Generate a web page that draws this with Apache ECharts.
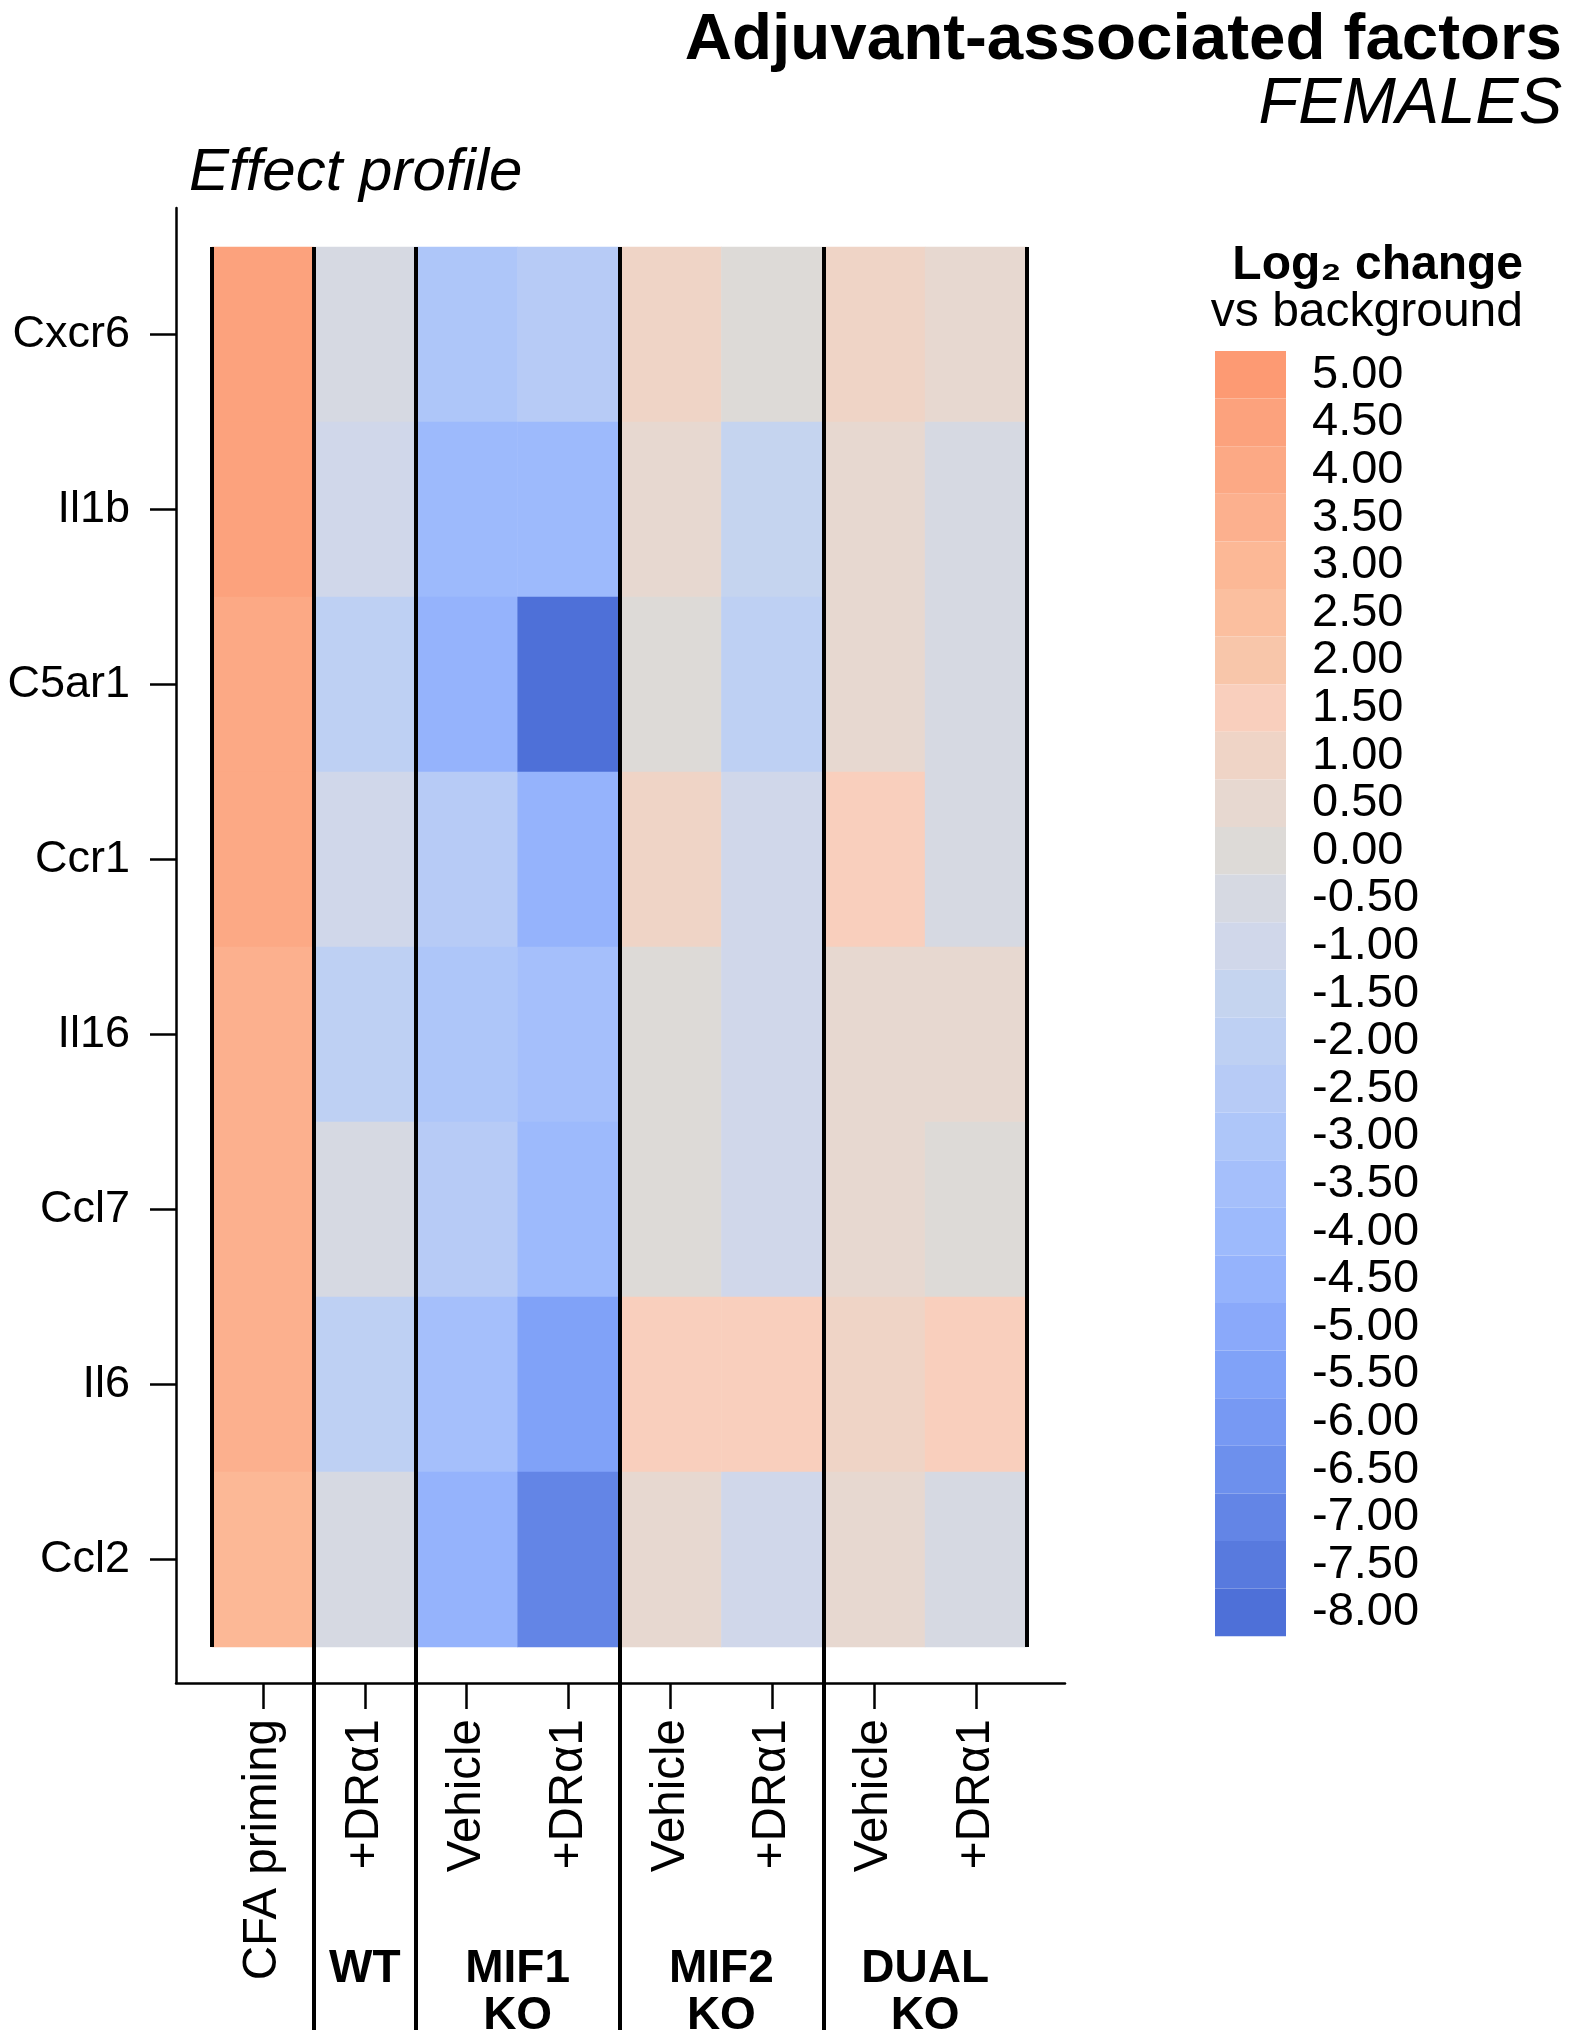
<!DOCTYPE html>
<html>
<head>
<meta charset="utf-8">
<script src="https://cdn.jsdelivr.net/npm/echarts@6/dist/echarts.min.js"></script>
<style>
html,body{margin:0;padding:0;background:#fff;}
#chart{width:1575px;height:2040px;}
</style>
</head>
<body>
<div id="chart"></div>
<script>
// ---- data ----
const genes = ['Cxcr6', 'Il1b', 'C5ar1', 'Ccr1', 'Il16', 'Ccl7', 'Il6', 'Ccl2'];
const treatments = ['CFA priming', '+DRα1', 'Vehicle', '+DRα1', 'Vehicle', '+DRα1', 'Vehicle', '+DRα1'];
const groupLabels = ['WT', 'MIF1\nKO', 'MIF2\nKO', 'DUAL\nKO'];
const groupCenters = [1.5, 3, 5, 7];      // in column units
const groupSeparators = [1, 2, 4, 6];     // column boundaries between groups
const panelEdges = [0, 8];

// log2 change values, one array per column, in gene order
const cfaPriming  = [4.5, 4.5, 4.0, 4.0, 3.5, 3.5, 3.5, 3.0];
const wtDR        = [-0.5, -1.0, -2.0, -1.0, -2.0, -0.5, -2.0, -0.5];
const mif1Vehicle = [-3.0, -4.0, -4.5, -2.5, -3.0, -2.5, -3.5, -4.5];
const mif1DR      = [-2.5, -4.0, -8.0, -4.5, -3.5, -4.0, -5.5, -7.0];
const mif2Vehicle = [1.0, 0.5, 0.0, 1.0, 0.0, 0.0, 1.5, 0.5];
const mif2DR      = [0.0, -1.5, -2.0, -1.0, -1.0, -1.0, 1.5, -1.0];
const dualVehicle = [1.0, 0.5, 0.5, 1.5, 0.5, 0.5, 1.0, 0.5];
const dualDR      = [0.5, -0.5, -0.5, -0.5, 0.5, 0.0, 1.5, -0.5];

const legendTicks = [5.0, 4.5, 4.0, 3.5, 3.0, 2.5, 2.0, 1.5, 1.0, 0.5, 0.0, -0.5, -1.0, -1.5,
  -2.0, -2.5, -3.0, -3.5, -4.0, -4.5, -5.0, -5.5, -6.0, -6.5, -7.0, -7.5, -8.0];

// ---- style ----
const legendColors = ['#fd9a73', '#fca27d', '#fca985', '#fcb08e', '#fcb896', '#fbbf9f', '#f8c6aa',
  '#f9cfbd', '#efd4c6', '#e7d8d0', '#dddad7', '#d6d9e2', '#d0d7ea', '#c5d4ef',
  '#bed0f3', '#b7cbf6', '#aec6f9', '#a5bffb', '#9dbafc', '#95b3fc', '#8aa9fa',
  '#80a2f8', '#7799f3', '#6d90ed', '#6385e6', '#587ade', '#4e70d8'];
const FONT = '"Liberation Sans", Arial, Helvetica, sans-serif';

const columns = [cfaPriming, wtDR, mif1Vehicle, mif1DR, mif2Vehicle, mif2DR, dualVehicle, dualDR];
const heatData = [];
columns.forEach((col, xi) => col.forEach((v, yi) => heatData.push([xi, yi, v])));

const pieces = legendTicks.map((t, i) => ({
  min: t - 0.25, max: t + 0.25, label: t.toFixed(2), color: legendColors[i]
}));

const blackLine = { color: '#000', width: 2.5 };
const hiddenValueAxis = (grid, max) => ({
  type: 'value', gridIndex: grid, min: 0, max: max, show: false
});

const chart = echarts.init(document.getElementById('chart'), null, { renderer: 'canvas' });
chart.setOption({
  backgroundColor: '#fff',
  animation: false,
  textStyle: { fontFamily: FONT, color: '#000' },
  title: [
    { text: 'Adjuvant-associated factors', right: 13, top: 8, padding: 0,
      textStyle: { fontSize: 65.5, fontWeight: 'bold', color: '#000', fontFamily: FONT } },
    { text: 'FEMALES', right: 13, top: 72, padding: 0,
      textStyle: { fontSize: 65, fontStyle: 'italic', fontWeight: 'normal', color: '#000', fontFamily: FONT } },
    { text: 'Effect profile', left: 189, top: 143, padding: 0,
      textStyle: { fontSize: 60, fontStyle: 'italic', fontWeight: 'normal', color: '#000', fontFamily: FONT } },
    { text: 'Log₂ change', right: 52, top: 242, padding: 0,
      textStyle: { fontSize: 48, fontWeight: 'bold', color: '#000', fontFamily: FONT } },
    { text: 'vs background', right: 52, top: 289, padding: 0,
      textStyle: { fontSize: 48, fontWeight: 'normal', color: '#000', fontFamily: FONT } }
  ],
  grid: [
    { left: 212, top: 247, width: 815, height: 1400 },   // 0 heatmap
    { left: 176, top: 208, width: 889, height: 1475 },   // 1 axis frame
    { left: 212, top: 247, width: 815, height: 1783 },   // 2 group separators
    { left: 212, top: 247, width: 815, height: 1400 },   // 3 panel edges
    { left: 212, top: 247, width: 815, height: 1693 }    // 4 group labels
  ],
  xAxis: [
    { type: 'category', gridIndex: 0, data: treatments, position: 'bottom', offset: 36,
      axisLine: { show: false },
      axisTick: { show: true, length: 26, alignWithLabel: true, lineStyle: blackLine },
      axisLabel: { rotate: 90, margin: 36, interval: 0, fontSize: 47.5, color: '#000', fontFamily: FONT },
      splitLine: { show: false } },
    { type: 'value', gridIndex: 1, min: 0, max: 1,
      axisLine: { show: true, onZero: false, lineStyle: blackLine },
      axisTick: { show: false }, axisLabel: { show: false }, splitLine: { show: false } },
    hiddenValueAxis(2, 8),
    hiddenValueAxis(3, 8),
    { type: 'value', gridIndex: 4, min: 0, max: 8,
      axisLine: { show: false }, axisTick: { show: false }, splitLine: { show: false },
      axisLabel: { show: true, customValues: groupCenters,
        formatter: (v) => { const i = groupCenters.indexOf(v); return i >= 0 ? groupLabels[i] : ''; },
        fontSize: 46, fontWeight: 'bold', lineHeight: 47, margin: 10, color: '#000', fontFamily: FONT } }
  ],
  yAxis: [
    { type: 'category', gridIndex: 0, data: genes, inverse: true, offset: 36,
      axisLine: { show: false },
      axisTick: { show: true, length: 26, alignWithLabel: true, lineStyle: blackLine },
      axisLabel: { margin: 46, fontSize: 45, color: '#000', fontFamily: FONT },
      splitLine: { show: false } },
    { type: 'value', gridIndex: 1, min: 0, max: 1,
      axisLine: { show: true, onZero: false, lineStyle: blackLine },
      axisTick: { show: false }, axisLabel: { show: false }, splitLine: { show: false } },
    hiddenValueAxis(2, 1),
    hiddenValueAxis(3, 1),
    hiddenValueAxis(4, 1)
  ],
  visualMap: {
    type: 'piecewise', seriesIndex: 0, pieces: pieces, orient: 'vertical',
    left: 1215, top: 351, padding: 0, align: 'left',
    itemWidth: 71, itemHeight: 47.6, itemGap: 0, itemSymbol: 'rect', textGap: 26,
    selectedMode: false, hoverLink: false,
    textStyle: { fontSize: 47, color: '#000', fontFamily: FONT, padding: [7, 0, 0, 0] }
  },
  series: [
    { type: 'heatmap', xAxisIndex: 0, yAxisIndex: 0, data: heatData,
      itemStyle: { borderWidth: 0 }, emphasis: { disabled: true }, silent: true, z: 2 },
    { type: 'line', xAxisIndex: 2, yAxisIndex: 2, data: [], silent: true, z: 5,
      markLine: { symbol: ['none', 'none'], silent: true, animation: false,
        label: { show: false }, emphasis: { disabled: true },
        lineStyle: { color: '#000', width: 4, type: 'solid' },
        data: groupSeparators.map((x) => ({ xAxis: x })) } },
    { type: 'line', xAxisIndex: 3, yAxisIndex: 3, data: [], silent: true, z: 5,
      markLine: { symbol: ['none', 'none'], silent: true, animation: false,
        label: { show: false }, emphasis: { disabled: true },
        lineStyle: { color: '#000', width: 4, type: 'solid' },
        data: panelEdges.map((x) => ({ xAxis: x })) } }
  ]
});
</script>
</body>
</html>
